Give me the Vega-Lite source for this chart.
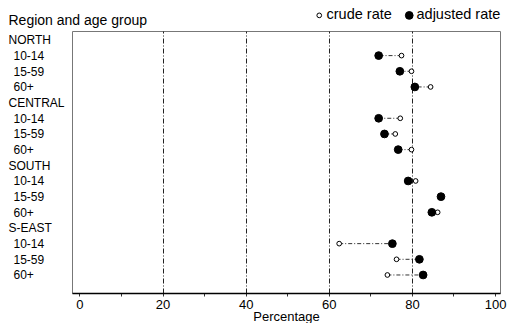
{
  "$schema": "https://vega.github.io/schema/vega-lite/v6.json",
  "width": 428,
  "height": 262,
  "autosize": "none",
  "padding": {"left": 72, "top": 31, "right": 10, "bottom": 30},
  "background": "white",
  "config": {"font": "Liberation Sans", "view": {"stroke": "#777", "strokeWidth": 1}},
  "data": {"values": [
    {"idx": 1, "region": "NORTH", "age": "10-14", "crude": 77.5, "adjusted": 72.0},
    {"idx": 2, "region": "NORTH", "age": "15-59", "crude": 79.9, "adjusted": 77.1},
    {"idx": 3, "region": "NORTH", "age": "60+", "crude": 84.5, "adjusted": 80.7},
    {"idx": 5, "region": "CENTRAL", "age": "10-14", "crude": 77.2, "adjusted": 72.0},
    {"idx": 6, "region": "CENTRAL", "age": "15-59", "crude": 76.0, "adjusted": 73.4},
    {"idx": 7, "region": "CENTRAL", "age": "60+", "crude": 79.9, "adjusted": 76.7},
    {"idx": 9, "region": "SOUTH", "age": "10-14", "crude": 80.9, "adjusted": 79.1},
    {"idx": 10, "region": "SOUTH", "age": "15-59", "crude": 87.0, "adjusted": 87.0},
    {"idx": 11, "region": "SOUTH", "age": "60+", "crude": 86.2, "adjusted": 84.8},
    {"idx": 13, "region": "S-EAST", "age": "10-14", "crude": 62.5, "adjusted": 75.3},
    {"idx": 14, "region": "S-EAST", "age": "15-59", "crude": 76.3, "adjusted": 81.8},
    {"idx": 15, "region": "S-EAST", "age": "60+", "crude": 74.1, "adjusted": 82.7}
  ]},
  "encoding": {
    "y": {
      "field": "idx",
      "type": "quantitative",
      "scale": {"domain": [-0.57, 16.15], "reverse": true, "nice": false, "zero": false},
      "axis": {
        "values": [0, 1, 2, 3, 4, 5, 6, 7, 8, 9, 10, 11, 12, 13, 14, 15],
        "labelExpr": "['NORTH','10-14','15-59','60+','CENTRAL','10-14','15-59','60+','SOUTH','10-14','15-59','60+','S-EAST','10-14','15-59','60+'][datum.value]",
        "labelAlign": "left",
        "labelBaseline": "middle",
        "labelPadding": {"condition": {"test": "datum.value % 4 == 0", "value": 64}, "value": 59},
        "ticks": false,
        "domain": false,
        "grid": false,
        "labelFontSize": 12,
        "labelColor": "black",
        "labelOverlap": false,
        "labelFlush": false,
        "title": "Region and age group",
        "titleAngle": 0,
        "titleX": -64,
        "titleY": -7,
        "titleAlign": "left",
        "titleBaseline": "alphabetic",
        "titleFontSize": 14,
        "titleFontWeight": "normal",
        "titleColor": "black"
      }
    }
  },
  "layer": [
    {
      "mark": {"type": "rule", "color": "#333", "strokeWidth": 1, "strokeDash": [4, 2, 1, 2]},
      "encoding": {
        "x": {
          "field": "crude",
          "type": "quantitative",
          "scale": {"domain": [-1.8, 101.2], "nice": false, "zero": false},
          "axis": {
            "values": [0, 5, 10, 15, 20, 25, 30, 35, 40, 45, 50, 55, 60, 65, 70, 75, 80, 85, 90, 95, 100],
            "labelExpr": "datum.value % 20 == 0 ? datum.label : ''",
            "tickSize": 3,
            "tickColor": "#333",
            "domainColor": "black",
            "domainWidth": 1.5,
            "labelFontSize": 13,
            "labelColor": "black",
            "labelPadding": 2,
            "labelFlush": false,
            "labelOverlap": false,
            "grid": true,
            "gridColor": "#222",
            "gridWidth": 1,
            "gridDash": [5, 2, 1, 2],
            "gridOpacity": {"condition": {"test": "datum.value == 20 || datum.value == 40 || datum.value == 60 || datum.value == 80", "value": 1}, "value": 0},
            "title": "Percentage",
            "titleFontSize": 13,
            "titleFontWeight": "normal",
            "titleColor": "black",
            "titlePadding": -1
          }
        },
        "x2": {"field": "adjusted"}
      }
    },
    {
      "transform": [{"fold": ["crude", "adjusted"], "as": ["type", "value"]}],
      "mark": {"type": "point", "shape": "circle", "filled": false, "stroke": "black", "strokeWidth": 1, "opacity": 1, "fillOpacity": 1},
      "encoding": {
        "x": {"field": "value", "type": "quantitative", "title": "Percentage"},
        "fill": {
          "field": "type",
          "type": "nominal",
          "scale": {"domain": ["crude", "adjusted"], "range": ["white", "black"]},
          "legend": {
            "orient": "none",
            "legendX": 240,
            "legendY": -23,
            "direction": "horizontal",
            "title": null,
            "labelExpr": "datum.label + ' rate'",
            "labelFontSize": 14.5,
            "labelColor": "black",
            "symbolType": "circle",
            "symbolStrokeColor": "black",
            "symbolStrokeWidth": 1,
            "labelOffset": 0,
            "columnPadding": 10
          }
        },
        "size": {
          "field": "type",
          "type": "nominal",
          "scale": {"domain": ["crude", "adjusted"], "range": [22, 60]}
        }
      }
    }
  ]
}
